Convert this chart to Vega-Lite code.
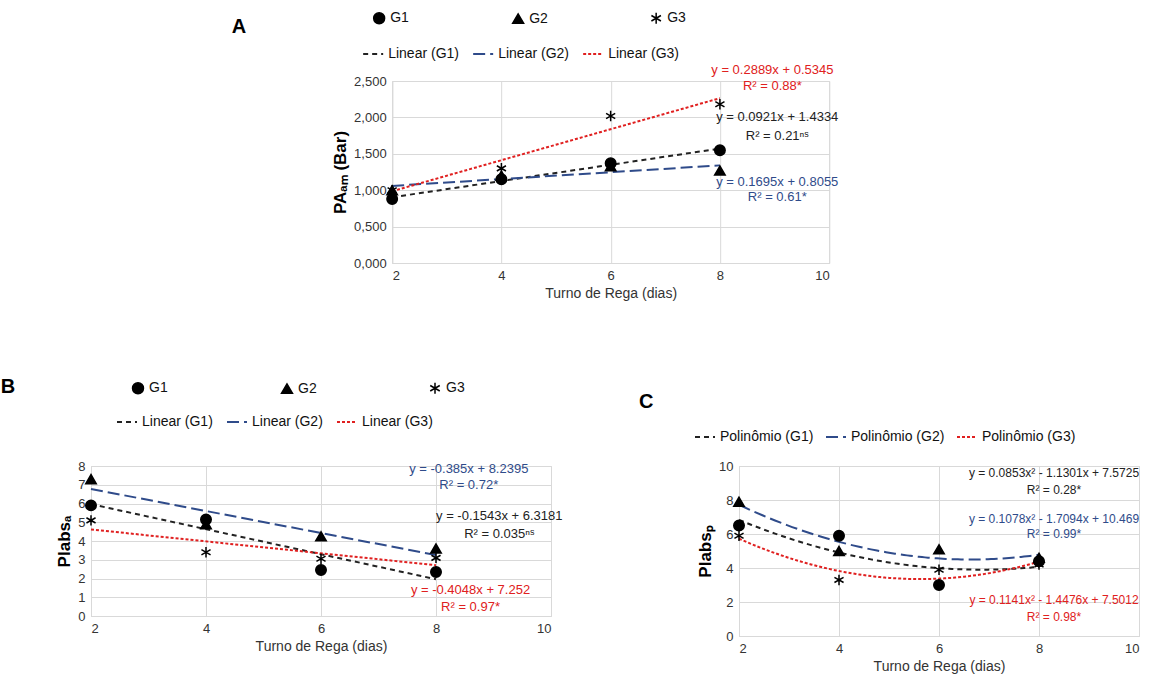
{
  "$schema": "https://vega.github.io/schema/vega-lite/v6.json",
  "background": "white",
  "padding": {"left": 0, "top": 10, "right": 5, "bottom": 0},
  "config": {
    "font": "Liberation Sans",
    "view": {"stroke": "#d9d9d9"},
    "axis": {"gridColor": "#d9d9d9", "labelFontSize": 13, "titleFontSize": 14, "titleFontWeight": "normal", "labelColor": "#333", "titleColor": "#333", "domainColor": "#d9d9d9", "tickSize": 0, "labelPadding": 6, "labelOverlap": false},
    "legend": {"labelFontSize": 14, "labelColor": "#111", "symbolSize": 120},
    "title": {"fontSize": 20, "fontWeight": "bold", "anchor": "start", "color": "#000"}
  },
  "resolve": {
    "scale": {"x": "independent", "y": "independent", "color": "independent", "shape": "independent", "strokeDash": "independent"},
    "legend": {"color": "independent", "shape": "independent", "strokeDash": "independent"}
  },
  "datasets": {
    "a": [
      {"x": 2, "y": 0.88, "g": "G1"}, {"x": 4, "y": 1.15, "g": "G1"}, {"x": 6, "y": 1.37, "g": "G1"}, {"x": 8, "y": 1.55, "g": "G1"},
      {"x": 2, "y": 1.0, "g": "G2"}, {"x": 4, "y": 1.2, "g": "G2"}, {"x": 6, "y": 1.33, "g": "G2"}, {"x": 8, "y": 1.27, "g": "G2"},
      {"x": 2, "y": 1.0, "g": "G3"}, {"x": 4, "y": 1.3, "g": "G3"}, {"x": 6, "y": 2.02, "g": "G3"}, {"x": 8, "y": 2.18, "g": "G3"}
    ],
    "b": [
      {"x": 2, "y": 5.9, "g": "G1"}, {"x": 4, "y": 5.15, "g": "G1"}, {"x": 6, "y": 2.45, "g": "G1"}, {"x": 8, "y": 2.35, "g": "G1"},
      {"x": 2, "y": 7.3, "g": "G2"}, {"x": 4, "y": 4.9, "g": "G2"}, {"x": 6, "y": 4.25, "g": "G2"}, {"x": 8, "y": 3.6, "g": "G2"},
      {"x": 2, "y": 5.1, "g": "G3"}, {"x": 4, "y": 3.4, "g": "G3"}, {"x": 6, "y": 3.05, "g": "G3"}, {"x": 8, "y": 3.1, "g": "G3"}
    ],
    "c": [
      {"x": 2, "y": 6.5, "g": "G1"}, {"x": 4, "y": 5.9, "g": "G1"}, {"x": 6, "y": 3.0, "g": "G1"}, {"x": 8, "y": 4.4, "g": "G1"},
      {"x": 2, "y": 7.9, "g": "G2"}, {"x": 4, "y": 5.0, "g": "G2"}, {"x": 6, "y": 5.1, "g": "G2"}, {"x": 8, "y": 4.6, "g": "G2"},
      {"x": 2, "y": 5.9, "g": "G3"}, {"x": 4, "y": 3.3, "g": "G3"}, {"x": 6, "y": 3.9, "g": "G3"}, {"x": 8, "y": 4.2, "g": "G3"}
    ],
    "ta": [
      {"x": 8.96, "y": 2.65, "t": "y = 0.2889x + 0.5345", "c": "r"},
      {"x": 8.96, "y": 2.43, "t": "R² = 0.88*", "c": "r"},
      {"x": 9.05, "y": 2.0, "t": "y = 0.0921x + 1.4334", "c": "k"},
      {"x": 9.05, "y": 1.75, "t": "R² = 0.21ⁿˢ", "c": "k"},
      {"x": 9.05, "y": 1.11, "t": "y = 0.1695x + 0.8055", "c": "b"},
      {"x": 9.05, "y": 0.91, "t": "R² = 0.61*", "c": "b"}
    ],
    "tb": [
      {"x": 8.57, "y": 7.85, "t": "y = -0.385x + 8.2395", "c": "b"},
      {"x": 8.57, "y": 7.0, "t": "R² = 0.72*", "c": "b"},
      {"x": 9.1, "y": 5.36, "t": "y = -0.1543x + 6.3181", "c": "k"},
      {"x": 9.1, "y": 4.38, "t": "R² = 0.035ⁿˢ", "c": "k"},
      {"x": 8.6, "y": 1.39, "t": "y = -0.4048x + 7.252", "c": "r"},
      {"x": 8.6, "y": 0.46, "t": "R² = 0.97*", "c": "r"}
    ],
    "tc": [
      {"x": 8.3, "y": 9.6, "t": "y = 0.0853x² - 1.1301x + 7.5725", "c": "k"},
      {"x": 8.3, "y": 8.6, "t": "R² = 0.28*", "c": "k"},
      {"x": 8.3, "y": 6.9, "t": "y = 0.1078x² - 1.7094x + 10.469", "c": "b"},
      {"x": 8.3, "y": 6.0, "t": "R² = 0.99*", "c": "b"},
      {"x": 8.3, "y": 2.1, "t": "y = 0.1141x² - 1.4476x + 7.5012", "c": "r"},
      {"x": 8.3, "y": 1.1, "t": "R² = 0.98*", "c": "r"}
    ]
  },
  "vconcat": [
    {
      "title": {"text": "A", "dx": -100, "dy": 30},
      "width": 437, "height": 182,
      "encoding": {
        "x": {"field": "x", "type": "quantitative", "scale": {"domain": [2, 10]}, "axis": {"values": [2, 4, 6, 8, 10], "format": "d", "title": "Turno de Rega (dias)"}},
        "y": {"field": "y", "type": "quantitative", "scale": {"domain": [0, 2.5]}, "axis": {"values": [0, 0.5, 1, 1.5, 2, 2.5], "labelExpr": "replace(format(datum.value, '.3f'), '.', ',')", "title": "PAₐₘ (Bar)", "titleFontWeight": "bold", "titleFontSize": 17, "titleColor": "#000"}}
      },
      "layer": [
        {
          "data": {"name": "a"},
          "transform": [{"regression": "y", "on": "x", "groupby": ["g"], "method": "linear"}, {"calculate": "'Linear (' + datum.g + ')'", "as": "lbl"}],
          "mark": {"type": "line", "strokeWidth": 2},
          "encoding": {
            "color": {"field": "lbl", "type": "nominal", "scale": {"domain": ["Linear (G1)", "Linear (G2)", "Linear (G3)"], "range": ["#222", "#2f4b8a", "#e02020"]}, "legend": {"title": null, "orient": "none", "legendX": -30, "legendY": -38, "direction": "horizontal", "columnPadding": 10, "symbolType": "stroke", "symbolSize": 400, "symbolStrokeWidth": 2, "encode": {"symbols": {"update": {"strokeDash": {"signal": "datum.index == 0 ? [5,4] : datum.index == 1 ? [12,5] : [3,2]"}}}}}},
            "strokeDash": {"field": "lbl", "type": "nominal", "scale": {"domain": ["Linear (G1)", "Linear (G2)", "Linear (G3)"], "range": [[5, 4], [12, 5], [3, 2]]}, "legend": null}
          }
        },
        {
          "data": {"name": "a"},
          "mark": {"type": "point", "filled": true, "color": "black", "stroke": "black", "strokeWidth": 1.5, "size": 110, "opacity": 1},
          "encoding": {
            "shape": {"field": "g", "type": "nominal", "scale": {"domain": ["G1", "G2", "G3"], "range": ["circle", "triangle-up", "M0,-1L0,1M-0.87,-0.5L0.87,0.5M-0.87,0.5L0.87,-0.5"]}, "legend": {"title": null, "orient": "none", "legendX": -20, "legendY": -70, "direction": "horizontal", "columnPadding": 100, "encode": {"symbols": {"update": {"fill": {"value": "black"}, "stroke": {"value": "black"}, "strokeWidth": {"value": 1.5}}}}}}
          }
        },
        {
          "data": {"name": "ta"},
          "mark": {"type": "text", "fontSize": 13},
          "encoding": {
            "text": {"field": "t"},
            "color": {"field": "c", "type": "nominal", "scale": {"domain": ["k", "b", "r"], "range": ["#222", "#2f4b8a", "#e02020"]}, "legend": null}
          }
        }
      ],
      "resolve": {"scale": {"color": "independent"}}
    },
    {
      "hconcat": [
        {
          "title": {"text": "B", "dx": -55, "dy": -10},
          "width": 460, "height": 150,
          "encoding": {
            "x": {"field": "x", "type": "quantitative", "scale": {"domain": [2, 10]}, "axis": {"values": [2, 4, 6, 8, 10], "format": "d", "title": "Turno de Rega (dias)"}},
            "y": {"field": "y", "type": "quantitative", "scale": {"domain": [0, 8]}, "axis": {"values": [0, 1, 2, 3, 4, 5, 6, 7, 8], "format": "d", "title": "Plabsₐ", "titleFontWeight": "bold", "titleFontSize": 17, "titleColor": "#000"}}
          },
          "layer": [
            {
              "data": {"name": "b"},
              "transform": [{"regression": "y", "on": "x", "groupby": ["g"], "method": "linear"}, {"calculate": "'Linear (' + datum.g + ')'", "as": "lbl"}],
              "mark": {"type": "line", "strokeWidth": 2},
              "encoding": {
                "color": {"field": "lbl", "type": "nominal", "scale": {"domain": ["Linear (G1)", "Linear (G2)", "Linear (G3)"], "range": ["#222", "#2f4b8a", "#e02020"]}, "legend": {"title": null, "orient": "none", "legendX": 25, "legendY": -55, "direction": "horizontal", "columnPadding": 10, "symbolType": "stroke", "symbolSize": 400, "symbolStrokeWidth": 2, "encode": {"symbols": {"update": {"strokeDash": {"signal": "datum.index == 0 ? [5,4] : datum.index == 1 ? [12,5] : [3,2]"}}}}}},
                "strokeDash": {"field": "lbl", "type": "nominal", "scale": {"domain": ["Linear (G1)", "Linear (G2)", "Linear (G3)"], "range": [[5, 4], [12, 5], [3, 2]]}, "legend": null}
              }
            },
            {
              "data": {"name": "b"},
              "mark": {"type": "point", "filled": true, "color": "black", "stroke": "black", "strokeWidth": 1.5, "size": 110, "opacity": 1},
              "encoding": {
                "shape": {"field": "g", "type": "nominal", "scale": {"domain": ["G1", "G2", "G3"], "range": ["circle", "triangle-up", "M0,-1L0,1M-0.87,-0.5L0.87,0.5M-0.87,0.5L0.87,-0.5"]}, "legend": {"title": null, "orient": "none", "legendX": 40, "legendY": -85, "direction": "horizontal", "columnPadding": 110, "encode": {"symbols": {"update": {"fill": {"value": "black"}, "stroke": {"value": "black"}, "strokeWidth": {"value": 1.5}}}}}}
              }
            },
            {
              "data": {"name": "tb"},
              "mark": {"type": "text", "fontSize": 13},
              "encoding": {
                "text": {"field": "t"},
                "color": {"field": "c", "type": "nominal", "scale": {"domain": ["k", "b", "r"], "range": ["#222", "#2f4b8a", "#e02020"]}, "legend": null}
              }
            }
          ],
          "resolve": {"scale": {"color": "independent"}}
        },
        {
          "title": {"text": "C", "dx": -55, "dy": -10},
          "width": 400, "height": 170,
          "encoding": {
            "x": {"field": "x", "type": "quantitative", "scale": {"domain": [2, 10]}, "axis": {"values": [2, 4, 6, 8, 10], "format": "d", "title": "Turno de Rega (dias)"}},
            "y": {"field": "y", "type": "quantitative", "scale": {"domain": [0, 10]}, "axis": {"values": [0, 2, 4, 6, 8, 10], "format": "d", "title": "Plabsₚ", "titleFontWeight": "bold", "titleFontSize": 17, "titleColor": "#000"}}
          },
          "layer": [
            {
              "data": {"name": "c"},
              "transform": [{"regression": "y", "on": "x", "groupby": ["g"], "method": "poly", "order": 2}, {"calculate": "'Polinômio (' + datum.g + ')'", "as": "lbl"}],
              "mark": {"type": "line", "strokeWidth": 2, "interpolate": "monotone"},
              "encoding": {
                "color": {"field": "lbl", "type": "nominal", "scale": {"domain": ["Polinômio (G1)", "Polinômio (G2)", "Polinômio (G3)"], "range": ["#222", "#2f4b8a", "#e02020"]}, "legend": {"title": null, "orient": "none", "legendX": -45, "legendY": -40, "direction": "horizontal", "columnPadding": 8, "symbolType": "stroke", "symbolSize": 400, "symbolStrokeWidth": 2, "encode": {"symbols": {"update": {"strokeDash": {"signal": "datum.index == 0 ? [5,4] : datum.index == 1 ? [12,5] : [3,2]"}}}}}},
                "strokeDash": {"field": "lbl", "type": "nominal", "scale": {"domain": ["Polinômio (G1)", "Polinômio (G2)", "Polinômio (G3)"], "range": [[5, 4], [12, 5], [3, 2]]}, "legend": null}
              }
            },
            {
              "data": {"name": "c"},
              "mark": {"type": "point", "filled": true, "color": "black", "stroke": "black", "strokeWidth": 1.5, "size": 110, "opacity": 1},
              "encoding": {
                "shape": {"field": "g", "type": "nominal", "scale": {"domain": ["G1", "G2", "G3"], "range": ["circle", "triangle-up", "M0,-1L0,1M-0.87,-0.5L0.87,0.5M-0.87,0.5L0.87,-0.5"]}, "legend": {"title": null, "orient": "none", "legendX": -28, "legendY": -72, "direction": "horizontal", "columnPadding": 115, "encode": {"symbols": {"update": {"fill": {"value": "black"}, "stroke": {"value": "black"}, "strokeWidth": {"value": 1.5}}}}}}
              }
            },
            {
              "data": {"name": "tc"},
              "mark": {"type": "text", "fontSize": 12},
              "encoding": {
                "text": {"field": "t"},
                "color": {"field": "c", "type": "nominal", "scale": {"domain": ["k", "b", "r"], "range": ["#222", "#2f4b8a", "#e02020"]}, "legend": null}
              }
            }
          ],
          "resolve": {"scale": {"color": "independent"}}
        }
      ],
      "spacing": 75
    }
  ],
  "center": true,
  "spacing": 75
}
